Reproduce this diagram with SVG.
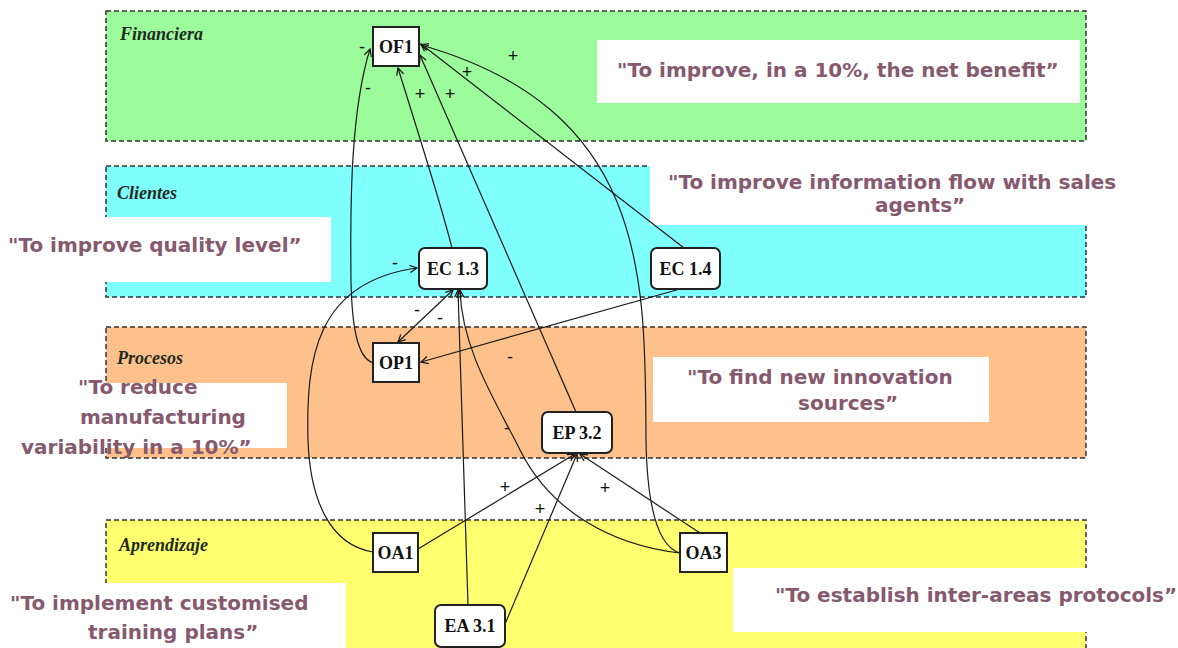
<svg xmlns="http://www.w3.org/2000/svg" width="1178" height="648" viewBox="0 0 1178 648">
<defs>
<marker id="ah" viewBox="0 0 10 10" refX="9" refY="5" markerWidth="9" markerHeight="9" markerUnits="userSpaceOnUse" orient="auto-start-reverse">
<path d="M1,1 L9,5 L1,9" fill="none" stroke="#1a1a1a" stroke-width="1.4"/>
</marker>
<style>
.band{stroke:#333;stroke-width:1.5;stroke-dasharray:5 3}
.wb{fill:#fff}
.q{font-family:"DejaVu Sans",sans-serif;font-weight:bold;font-size:20px;fill:#86596f}
.bl{font-family:"Liberation Serif",serif;font-style:italic;font-weight:bold;font-size:18px;fill:#1f2a1f}
.nb{fill:#fff;stroke:#222;stroke-width:2}
.nt{font-family:"Liberation Serif",serif;font-weight:bold;font-size:18px;fill:#111;text-anchor:middle}
.c{fill:none;stroke:#1a1a1a;stroke-width:1.2}
.s{font-family:"Liberation Sans",sans-serif;font-size:18px;fill:#111;text-anchor:middle}
</style>
</defs>
<g id="bands">
<rect class="band" x="106" y="11" width="980" height="130" fill="#9cfc9c"/>
<rect class="band" x="106" y="166" width="980" height="131" fill="#80ffff"/>
<rect class="band" x="106" y="327" width="980" height="131" fill="#ffc18c"/>
<rect class="band" x="106" y="520" width="980" height="140" fill="#ffff70"/>
</g>
<g id="notes">
<rect class="wb" x="597" y="40" width="483" height="63"/>
<rect class="wb" x="650" y="158" width="480" height="67"/>
<rect class="wb" x="0" y="217" width="331" height="65"/>
<rect class="wb" x="0" y="383" width="287" height="65"/>
<rect class="wb" x="653" y="357" width="336" height="65"/>
<rect class="wb" x="0" y="583" width="346" height="70"/>
<rect class="wb" x="733" y="568" width="445" height="64"/>
<text class="q" x="617" y="77">"To improve, in a 10%, the net benefit”</text>
<text class="q" x="668" y="189">"To improve information flow with sales</text>
<text class="q" x="875" y="212">agents”</text>
<text class="q" x="8" y="252">"To improve quality level”</text>
<text class="q" x="78" y="394">"To reduce</text>
<text class="q" x="80" y="424">manufacturing</text>
<text class="q" x="21" y="454">variability in a 10%”</text>
<text class="q" x="687" y="384">"To find new innovation</text>
<text class="q" x="798" y="410">sources”</text>
<text class="q" x="10" y="610">"To implement customised</text>
<text class="q" x="88" y="639">training plans”</text>
<text class="q" x="775" y="602">"To establish inter-areas protocols”</text>
</g>
<g id="band-labels">
<text class="bl" x="120" y="40">Financiera</text>
<text class="bl" x="117" y="199">Clientes</text>
<text class="bl" x="117" y="364">Procesos</text>
<text class="bl" x="119" y="551">Aprendizaje</text>
</g>
<g id="connectors">
<path class="c" d="M373,363 C356,357 352,322 351,282 C350,200 351,110 370,49" marker-end="url(#ah)"/>
<path class="c" d="M452,248 C440,200 414,120 398,68" marker-end="url(#ah)"/>
<path class="c" d="M576,412 L420,55" marker-end="url(#ah)"/>
<path class="c" d="M684,248 L421,44" marker-end="url(#ah)"/>
<path class="c" d="M680,553 C656,546 647,500 646,440 C645,280 650,110 421,45" marker-end="url(#ah)"/>
<path class="c" d="M680,553 C610,545 550,510 520,450 C495,400 462,350 460,290" marker-end="url(#ah)"/>
<path class="c" d="M468,605 L458,290" marker-end="url(#ah)"/>
<path class="c" d="M373,552 C330,545 310,500 308,440 C306,360 315,282 417,268" marker-end="url(#ah)"/>
<path class="c" d="M453,290 L398,342" marker-start="url(#ah)" marker-end="url(#ah)"/>
<path class="c" d="M680,289 L421,362" marker-end="url(#ah)"/>
<path class="c" d="M418,549 L575,454" marker-end="url(#ah)"/>
<path class="c" d="M505,624 L577,454" marker-end="url(#ah)"/>
<path class="c" d="M700,533 L580,454" marker-end="url(#ah)"/>
</g>
<g id="OF1"><rect class="nb" x="373" y="27" width="46" height="39"/><text class="nt" x="396" y="52.5">OF1</text></g>
<g id="EC13"><rect class="nb" x="419" y="248" width="68" height="41" rx="6"/><text class="nt" x="453" y="274.5">EC 1.3</text></g>
<g id="EC14"><rect class="nb" x="651" y="248" width="69" height="41" rx="6"/><text class="nt" x="685.5" y="274.5">EC 1.4</text></g>
<g id="OP1"><rect class="nb" x="373" y="343" width="46" height="39"/><text class="nt" x="396" y="368.5">OP1</text></g>
<g id="EP32"><rect class="nb" x="542" y="412" width="70" height="41" rx="6"/><text class="nt" x="577" y="438.5">EP 3.2</text></g>
<g id="OA1"><rect class="nb" x="373" y="533" width="45" height="39"/><text class="nt" x="395.5" y="558.5">OA1</text></g>
<g id="OA3"><rect class="nb" x="680" y="533" width="47" height="39"/><text class="nt" x="703.5" y="558.5">OA3</text></g>
<g id="EA31"><rect class="nb" x="435" y="605" width="70" height="42" rx="6"/><text class="nt" x="470" y="632">EA 3.1</text></g>
<g id="signs">
<text class="s" x="362" y="53">-</text>
<text class="s" x="368" y="94">-</text>
<text class="s" x="420" y="100">+</text>
<text class="s" x="450" y="100">+</text>
<text class="s" x="467" y="78">+</text>
<text class="s" x="513" y="62">+</text>
<text class="s" x="395" y="269">-</text>
<text class="s" x="417" y="316">-</text>
<text class="s" x="440" y="324">-</text>
<text class="s" x="510" y="363">-</text>
<text class="s" x="507" y="434">-</text>
<text class="s" x="505" y="493">+</text>
<text class="s" x="540" y="515">+</text>
<text class="s" x="605" y="494">+</text>
</g>
</svg>
